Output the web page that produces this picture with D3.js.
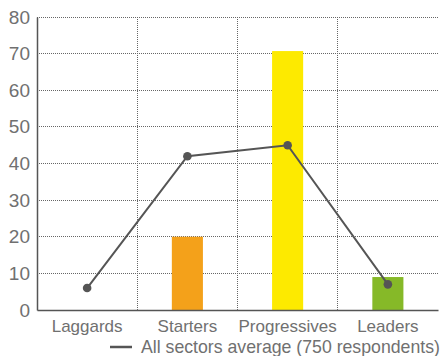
<!DOCTYPE html>
<html>
<head>
<meta charset="utf-8">
<script src="https://cdn.jsdelivr.net/npm/d3@7"></script>
<style>
  html, body { margin: 0; padding: 0; background: #fff; }
  svg { display: block; }
  text { font-family: "Liberation Sans", Arial, sans-serif; fill: #707070; }
</style>
</head>
<body>
<svg id="chart" width="441" height="356"></svg>
<script>
const categories = ["Laggards", "Starters", "Progressives", "Leaders"];
const barValues = [0, 20, 70.7, 9];
const barColors = ["#9a9a9a", "#F4A11A", "#FDEA00", "#86B928"];
const averageValues = [6, 42, 45, 7];
const yTicks = [0, 10, 20, 30, 40, 50, 60, 70, 80];
const legendLabel = "All sectors average (750 respondents)";

const svg = d3.select("#chart");
const margin = { left: 37, right: 3, top: 17, bottom: 46 };
const W = 441, H = 356;

const x = d3.scaleBand().domain(categories).range([margin.left, W - margin.right]).paddingInner(0).paddingOuter(0);
const y = d3.scaleLinear().domain([0, 80]).range([H - margin.bottom, margin.top]);

// horizontal grid
svg.append("g").selectAll("line").data(yTicks.filter(t => t > 0)).join("line")
  .attr("x1", margin.left).attr("x2", W - margin.right)
  .attr("y1", d => y(d)).attr("y2", d => y(d))
  .attr("stroke", "#666").attr("stroke-width", 1).attr("stroke-dasharray", "1,1")
  .attr("shape-rendering", "crispEdges");

// vertical grid at band boundaries
svg.append("g").selectAll("line").data(categories.slice(1)).join("line")
  .attr("x1", d => x(d)).attr("x2", d => x(d))
  .attr("y1", y(80)).attr("y2", y(0))
  .attr("stroke", "#666").attr("stroke-width", 1).attr("stroke-dasharray", "1,1")
  .attr("shape-rendering", "crispEdges");

// bars
const bw = x.bandwidth() * 0.31;
svg.append("g").selectAll("rect").data(categories).join("rect")
  .attr("x", d => x(d) + x.bandwidth() / 2 - bw / 2)
  .attr("width", bw)
  .attr("y", (d, i) => y(barValues[i]))
  .attr("height", (d, i) => y(0) - y(barValues[i]))
  .attr("fill", (d, i) => barColors[i]);

// axes
const yAxis = svg.append("g").attr("transform", `translate(${margin.left},0)`)
  .call(d3.axisLeft(y).tickValues(yTicks).tickSize(0).tickPadding(7));
yAxis.select(".domain").attr("stroke", "#555").attr("stroke-width", 1.5);
yAxis.selectAll("text").attr("font-size", 19).style("fill", "#707070");

const xAxis = svg.append("g").attr("transform", `translate(0,${y(0)})`)
  .call(d3.axisBottom(x).tickSize(0).tickPadding(10));
xAxis.select(".domain").attr("stroke", "#555").attr("stroke-width", 1.5);
xAxis.selectAll("text").attr("font-size", 17).style("fill", "#707070");

// line
const line = d3.line().x((d, i) => x(categories[i]) + x.bandwidth() / 2).y(d => y(d));
svg.append("path").datum(averageValues).attr("d", line)
  .attr("fill", "none").attr("stroke", "#555").attr("stroke-width", 2);
svg.append("g").selectAll("circle").data(averageValues).join("circle")
  .attr("cx", (d, i) => x(categories[i]) + x.bandwidth() / 2)
  .attr("cy", d => y(d)).attr("r", 4.3).attr("fill", "#555");

// legend
svg.append("line").attr("x1", 110).attr("x2", 132).attr("y1", 347).attr("y2", 347)
  .attr("stroke", "#555").attr("stroke-width", 2.5);
svg.append("text").attr("x", 141).attr("y", 353).attr("font-size", 17.7).text(legendLabel);
</script>
</body>
</html>
